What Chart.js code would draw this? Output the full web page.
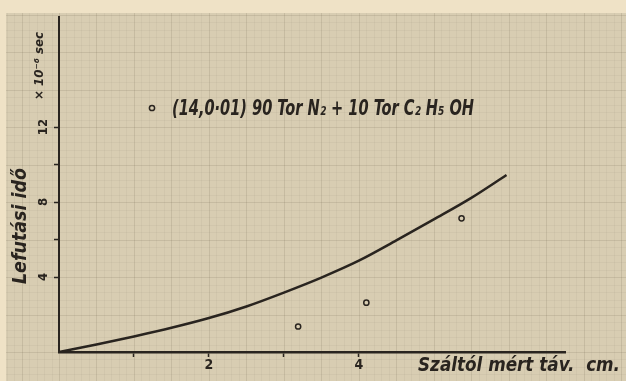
<!DOCTYPE html>
<html>
<head>
<meta charset="utf-8">
<script src="https://cdn.jsdelivr.net/npm/chart.js@4.4.1/dist/chart.umd.min.js"></script>
<style>
html,body{margin:0;padding:0;background:#efe2c6;}
#wrap{width:626px;height:381px;position:relative;overflow:hidden;}
canvas{display:block;}
</style>
</head>
<body>
<div id="wrap"><canvas id="c" width="626" height="381"></canvas></div>
<script>
// ---- data ----
const curveX = [0, 0.5, 1, 1.5, 2, 2.5, 3, 3.5, 4, 4.5, 5, 5.5, 5.97];
const curveY = [0, 0.40, 0.83, 1.29, 1.81, 2.43, 3.17, 3.97, 4.87, 5.95, 7.07, 8.22, 9.44];
const pointsX = [3.19, 4.10, 5.37];
const pointsY = [1.36, 2.63, 7.13];
const xTickLabels = [2, 4];
const yTickLabels = [4, 8, 12];
const xTickMarks = [1, 2, 3, 4];
const yTickMarks = [4, 6, 8, 10, 12];
const xTitle = 'Száltól mért táv.  cm.';
const yTitle = 'Lefutási idő';
const yUnit = '× 10⁻⁶ sec';
const seriesLabel = '(14,0·01) 90 Tor N₂ + 10 Tor C₂ H₅ OH';

const INK = '#29241f';
const PAPER = '#d8cdb2';
const HAND = '"DejaVu Sans Condensed","DejaVu Sans",sans-serif';

const curveData = curveX.map((x, i) => ({x, y: curveY[i]}));
const pointData = pointsX.map((x, i) => ({x, y: pointsY[i]}));

function fitText(ctx, text, x, y, font, width, rot) {
  ctx.save();
  ctx.font = font;
  const w = ctx.measureText(text).width;
  ctx.translate(x, y);
  if (rot) ctx.rotate(rot);
  ctx.scale(width / w, 1);
  ctx.textAlign = 'center';
  ctx.textBaseline = 'middle';
  ctx.fillStyle = INK;
  ctx.fillText(text, 0, 0);
  ctx.restore();
}

const paperPlugin = {
  id: 'paper',
  beforeDraw(chart) {
    const ctx = chart.ctx;
    const xs = chart.scales.x, ys = chart.scales.y;
    ctx.save();
    ctx.fillStyle = '#efe2c6';
    ctx.fillRect(0, 0, chart.width, chart.height);
    const L = 6, T = 13;
    ctx.fillStyle = PAPER;
    ctx.fillRect(L, T, chart.width - L, chart.height - T);
    ctx.beginPath(); ctx.rect(L, T, chart.width - L, chart.height - T); ctx.clip();
    // graph-paper grid derived from the scales: x every 0.1 (major 0.5), y every 0.4 (major 2)
    const x0 = xs.getValueForPixel(L), x1 = xs.getValueForPixel(chart.width);
    for (let k = Math.ceil(x0 / 0.1); k <= Math.floor(x1 / 0.1); k++) {
      const p = Math.round(xs.getPixelForValue(k * 0.1)) + 0.5;
      ctx.strokeStyle = (k % 5 === 0) ? 'rgba(110,100,80,0.17)' : 'rgba(110,100,80,0.06)';
      ctx.lineWidth = 1;
      ctx.beginPath(); ctx.moveTo(p, T); ctx.lineTo(p, chart.height); ctx.stroke();
    }
    const y0 = ys.getValueForPixel(chart.height), y1 = ys.getValueForPixel(T);
    for (let k = Math.ceil(y0 / 0.4); k <= Math.floor(y1 / 0.4); k++) {
      const p = Math.round(ys.getPixelForValue(k * 0.4)) + 0.5;
      ctx.strokeStyle = (k % 5 === 0) ? 'rgba(110,100,80,0.17)' : 'rgba(110,100,80,0.06)';
      ctx.lineWidth = 1;
      ctx.beginPath(); ctx.moveTo(L, p); ctx.lineTo(chart.width, p); ctx.stroke();
    }
    ctx.restore();
  },
  afterDraw(chart) {
    const ctx = chart.ctx;
    // legend entry
    const ds = chart.data.datasets[1];
    ctx.save();
    ctx.beginPath();
    ctx.arc(152, 108, 2.6, 0, Math.PI * 2);
    ctx.fillStyle = PAPER; ctx.fill();
    ctx.lineWidth = 1.5; ctx.strokeStyle = INK; ctx.stroke();
    ctx.restore();
    fitText(ctx, ds.label, 323, 110, 'italic bold 21px ' + HAND, 302, 0);
    // axis titles
    fitText(ctx, yTitle, 21, 226, 'italic bold 20px ' + HAND, 116, -Math.PI / 2);
    fitText(ctx, yUnit, 40, 66, 'italic bold 12px ' + HAND, 68, -Math.PI / 2);
    fitText(ctx, xTitle, 519, 366, 'italic bold 20px ' + HAND, 202, 0);
  }
};

new Chart(document.getElementById('c'), {
  type: 'scatter',
  data: {
    datasets: [
      {
        label: 'curve',
        data: curveData,
        showLine: true,
        borderColor: INK,
        borderWidth: 2.5,
        pointRadius: 0,
        cubicInterpolationMode: 'monotone',
        fill: false
      },
      {
        label: seriesLabel,
        data: pointData,
        showLine: false,
        pointRadius: 2.6,
        pointBorderWidth: 1.5,
        pointBorderColor: INK,
        pointBackgroundColor: PAPER
      }
    ]
  },
  options: {
    responsive: false,
    animation: false,
    devicePixelRatio: 1,
    layout: {padding: {left: 0, top: 17, right: 61, bottom: 0}},
    plugins: {legend: {display: false}, tooltip: {enabled: false}, title: {display: false}},
    scales: {
      x: {
        type: 'linear', min: 0, max: 6.75,
        afterFit: s => { s.height = 29; },
        border: {color: INK, width: 2.5},
        grid: {
          drawOnChartArea: false, tickLength: 5, tickWidth: 1.5,
          tickColor: c => xTickMarks.includes(c.tick.value) ? INK : 'rgba(0,0,0,0)'
        },
        ticks: {
          stepSize: 1, autoSkip: false, maxRotation: 0, padding: 0,
          color: INK, font: {family: HAND, size: 14, weight: 'bold'},
          callback: v => xTickLabels.includes(v) ? String(v) : ''
        }
      },
      y: {
        type: 'linear', min: 0, max: 17.87,
        afterFit: s => { s.width = 59; },
        border: {color: INK, width: 2},
        grid: {
          drawOnChartArea: false, tickLength: 5, tickWidth: 1.5,
          tickColor: c => yTickMarks.includes(c.tick.value) ? INK : 'rgba(0,0,0,0)'
        },
        ticks: {
          stepSize: 2, autoSkip: false, minRotation: 90, maxRotation: 90, crossAlign: 'center', padding: 2,
          color: INK, font: {family: HAND, size: 13, weight: 'bold'},
          callback: v => yTickLabels.includes(v) ? String(v) : ''
        }
      }
    }
  },
  plugins: [paperPlugin]
});
</script>
</body>
</html>
